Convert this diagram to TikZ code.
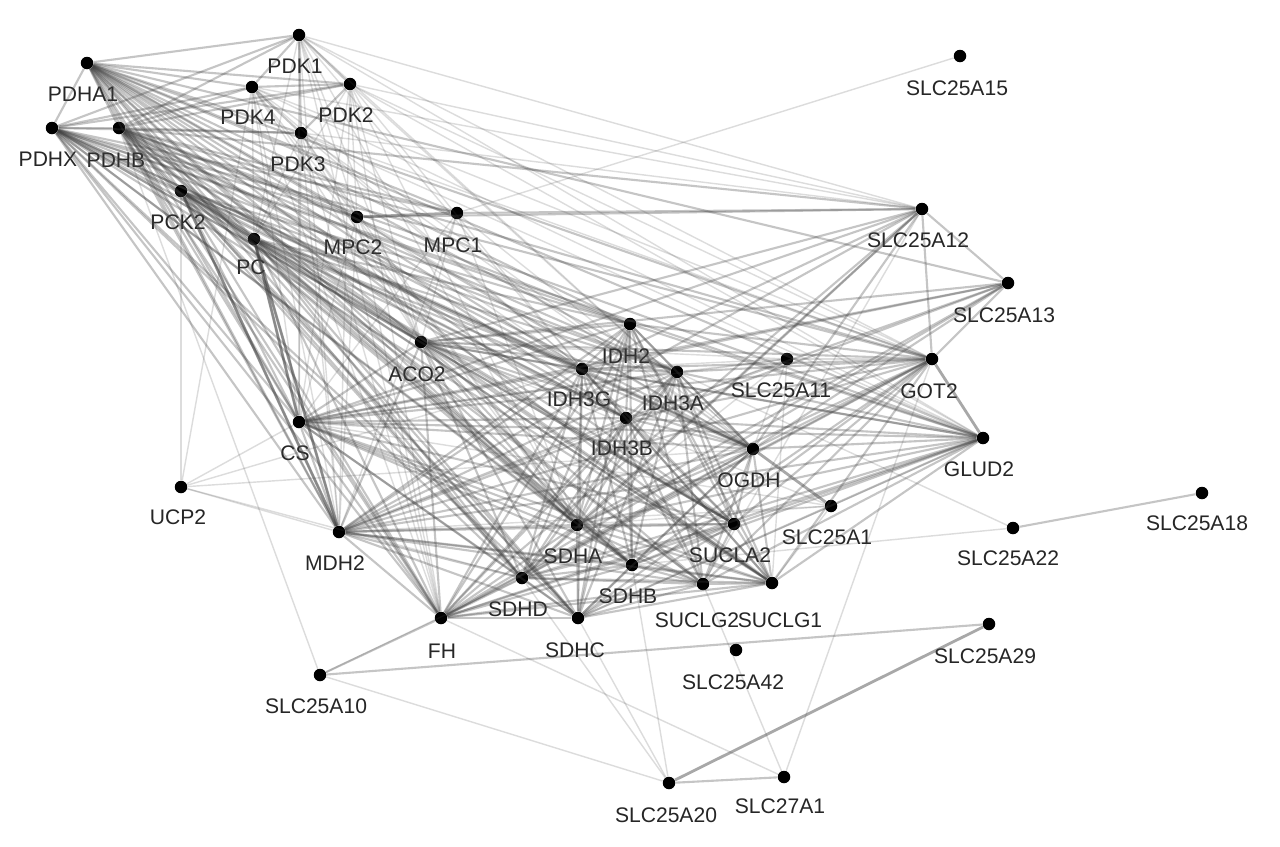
\documentclass[tikz,border=0pt]{standalone}
\usepackage{fontspec}
\setmainfont{Liberation Sans}
\newcommand\genenode[5]{\node[dot] (#1) at (#2,#3) {}; \node[lab] (#1-l) at (#4,#5) {#1};}
\begin{document}
\begin{tikzpicture}[x=0.02cm,y=-0.02cm,
  dot/.style={circle,fill=black,inner sep=0pt,minimum size=0.25cm},
  lab/.style={text=black!85,font=\fontsize{12}{14}\selectfont,inner sep=0pt},
  eh/.style={draw=black!75,opacity=0.45,line width=1.6pt},
  em/.style={draw=black!75,opacity=0.30,line width=1.2pt},
  el/.style={draw=black!75,opacity=0.18,line width=0.8pt}]
\useasboundingbox (0,0) rectangle (1280,846);
\fill[white] (0,0) rectangle (1280,846);
% nodes
\genenode{PDHA1}{87}{63}{83}{94}
\genenode{PDK1}{299}{35}{295}{66}
\genenode{PDK4}{252}{87}{248}{117}
\genenode{PDK2}{350}{84}{346}{115}
\genenode{PDHX}{52}{128}{48}{159}
\genenode{PDHB}{119}{128}{116}{160}
\genenode{PDK3}{301}{133}{298}{164}
\genenode{PCK2}{181}{191}{178}{222}
\genenode{MPC2}{357}{217}{353}{247}
\genenode{MPC1}{457}{213}{453}{245}
\genenode{PC}{254}{239}{251}{267}
\genenode{SLC25A15}{960}{56}{957}{88}
\genenode{SLC25A12}{922}{209}{918}{240}
\genenode{SLC25A13}{1008}{283}{1004}{315}
\genenode{IDH2}{630}{324}{626}{356}
\genenode{ACO2}{421}{342}{417}{374}
\genenode{SLC25A11}{787}{359}{781}{390}
\genenode{GOT2}{932}{359}{929}{391}
\genenode{IDH3G}{582}{369}{579}{399}
\genenode{IDH3A}{677}{372}{673}{403}
\genenode{IDH3B}{626}{418}{622}{448}
\genenode{CS}{299}{422}{295}{453}
\genenode{GLUD2}{983}{438}{979}{469}
\genenode{OGDH}{753}{449}{749}{480}
\genenode{UCP2}{181}{487}{178}{517}
\genenode{SLC25A18}{1202}{493}{1197}{523}
\genenode{SLC25A1}{831}{506}{827}{537}
\genenode{SLC25A22}{1013}{528}{1008}{558}
\genenode{MDH2}{339}{532}{335}{563}
\genenode{SDHA}{577}{525}{573}{556}
\genenode{SUCLA2}{734}{524}{730}{555}
\genenode{SDHB}{632}{565}{628}{596}
\genenode{SDHD}{522}{578}{518}{609}
\genenode{SUCLG2}{703}{584}{697}{620}
\genenode{SUCLG1}{772}{583}{780}{620}
\genenode{FH}{441}{618}{442}{651}
\genenode{SDHC}{578}{618}{575}{650}
\genenode{SLC25A29}{989}{624}{985}{656}
\genenode{SLC25A42}{736}{650}{733}{682}
\genenode{SLC25A10}{320}{675}{316}{706}
\genenode{SLC25A20}{669}{783}{666}{815}
\genenode{SLC27A1}{784}{777}{780}{806}
% edges
\def\core{CS,ACO2,IDH2,IDH3G,IDH3A,IDH3B,OGDH,SUCLA2,SUCLG1,SUCLG2,SDHA,SDHB,SDHC,SDHD,FH,MDH2}
\def\pdhgrp{PDHA1,PDHB,PDHX,PDK1,PDK2,PDK3,PDK4}
\foreach \a [count=\i] in \core {
  \foreach \b [count=\j] in \core {
    \ifnum\j>\i \draw[em] (\a) -- (\b); \fi
  }
}
\foreach \a [count=\i] in \pdhgrp {
  \foreach \b [count=\j] in \pdhgrp {
    \ifnum\j>\i \draw[em] (\a) -- (\b); \fi
  }
}
\foreach \a in {PDHA1,PDHB,PDHX}
  \foreach \b in {CS,ACO2,IDH2,IDH3G,IDH3A,IDH3B,OGDH,SUCLA2,SUCLG1,SDHA,SDHB,SDHC,SDHD,FH,MDH2,PC,PCK2,MPC1,MPC2,GOT2,GLUD2}
    \draw[em] (\a) -- (\b);
\foreach \a in {PDK1,PDK2,PDK3,PDK4}
  \foreach \b in {CS,ACO2,IDH3G,OGDH,MDH2,SDHA,FH,PC,MPC2,GOT2,GLUD2,SLC25A12}
    \draw[el] (\a) -- (\b);
\foreach \a in {PC,PCK2}
  \foreach \b in \core
    \draw[em] (\a) -- (\b);
\draw[em] (PC) -- (PCK2);
\draw[eh] (PC) -- (CS);
\draw[eh] (PC) -- (MDH2);
\draw[eh] (PCK2) -- (MDH2);
\foreach \b in {CS,ACO2,IDH3G,OGDH,MDH2,SDHA,FH}
  \draw[el] (MPC2) -- (\b);
\foreach \b in {CS,OGDH,MDH2,SDHA,ACO2}
  \draw[el] (MPC1) -- (\b);
\draw[eh] (MPC1) -- (MPC2);
\draw[em] (MPC1) -- (SLC25A12);
\draw[em] (MPC2) -- (SLC25A12);
\draw[el] (MPC1) -- (SLC25A15);
\foreach \a in {GOT2,GLUD2}
  \foreach \b in \core
    \draw[em] (\a) -- (\b);
\draw[eh] (GOT2) -- (GLUD2);
\foreach \b in {GOT2,MDH2,OGDH,CS,SUCLG1,ACO2,IDH3A,SDHA,IDH3G}
  \draw[el] (SLC25A11) -- (\b);
\foreach \b in {CS,ACO2,IDH3G,MDH2,SDHA,OGDH,GOT2,PDHB,FH,SDHD}
  \draw[em] (SLC25A12) -- (\b);
\draw[el] (SLC25A12) -- (SUCLG2);
\draw[em] (SLC25A12) -- (SLC25A13);
\foreach \b in {CS,ACO2,MDH2,IDH3G,OGDH,PDHA1,GOT2,SDHA,FH,IDH3B}
  \draw[em] (SLC25A13) -- (\b);
\draw[eh] (SLC25A1) -- (OGDH);
\foreach \b in {SUCLG1,CS,MDH2,ACO2,SDHA,GLUD2,SDHC}
  \draw[el] (SLC25A1) -- (\b);
\draw[em] (SLC25A22) -- (SLC25A18);
\draw[el] (SLC25A22) -- (IDH3A);
\draw[el] (SLC25A22) -- (SDHB);
\draw[em] (SLC25A29) -- (SLC25A10);
\draw[eh] (SLC25A29) -- (SLC25A20);
\draw[em] (SLC25A20) -- (SLC27A1);
\draw[el] (SLC25A20) -- (SLC25A10);
\draw[el] (SLC25A20) -- (SDHD);
\draw[el] (SLC25A20) -- (SDHC);
\draw[el] (SLC25A20) -- (SDHB);
\draw[el] (SLC27A1) -- (FH);
\draw[el] (SLC27A1) -- (SUCLG2);
\draw[el] (SLC27A1) -- (GOT2);
\draw[em] (SLC25A10) -- (FH);
\draw[el] (SLC25A10) -- (SDHD);
\draw[el] (SLC25A10) -- (PDHB);
\draw[el] (UCP2) -- (PCK2);
\draw[el] (UCP2) -- (PDK4);
\draw[el] (UCP2) -- (CS);
\draw[el] (UCP2) -- (MDH2);
\draw[el] (UCP2) -- (SDHD);
\draw[el] (UCP2) -- (IDH3G);
\draw[el] (UCP2) -- (OGDH);
\end{tikzpicture}
\end{document}
